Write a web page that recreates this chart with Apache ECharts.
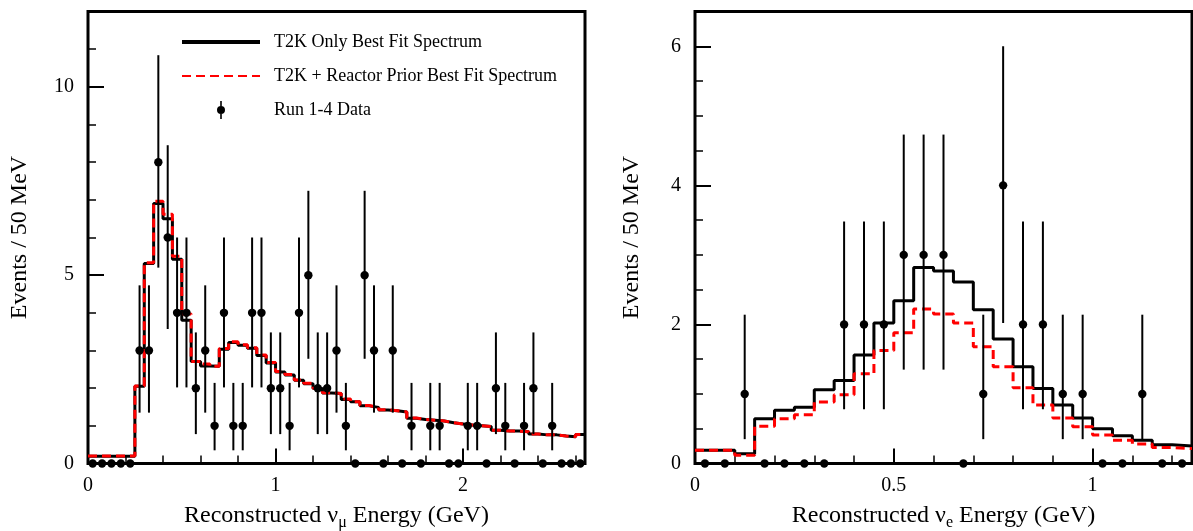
<!DOCTYPE html>
<html>
<head>
<meta charset="utf-8">
<script src="https://cdn.jsdelivr.net/npm/echarts@6/dist/echarts.min.js"></script>
<style>
  html, body { margin: 0; padding: 0; background: #fff; }
  #chart { width: 1193px; height: 531px; }
</style>
</head>
<body>
<div id="chart"></div>
<script>
const FONT = "Liberation Serif";
const binWidth = 0.05; // 50 MeV bins

/* ---------------- numu sample (left) ---------------- */
const numuT2K = [
  0.19, 0.19, 0.19, 0.19, 0.19, 2.05, 5.31, 6.90, 6.50, 5.42,
  3.80, 2.71, 2.59, 2.58, 3.03, 3.21, 3.14, 3.06, 2.87, 2.67,
  2.43, 2.35, 2.21, 2.12, 1.99, 1.87, 1.86, 1.70, 1.64, 1.53,
  1.49, 1.42, 1.40, 1.37, 1.20, 1.17, 1.15, 1.13, 1.08, 1.05,
  1.02, 1.00, 0.98, 0.88, 0.86, 0.86, 0.84, 0.78, 0.76, 0.76,
  0.73, 0.71, 0.77
];
const numuReactor = [
  0.20, 0.20, 0.20, 0.20, 0.20, 2.06, 5.33, 6.96, 6.62, 5.50,
  3.97, 2.71, 2.64, 2.58, 3.05, 3.23, 3.15, 3.07, 2.88, 2.68,
  2.44, 2.36, 2.22, 2.13, 2.00, 1.88, 1.86, 1.71, 1.64, 1.54,
  1.49, 1.43, 1.40, 1.37, 1.21, 1.17, 1.15, 1.13, 1.08, 1.05,
  1.02, 1.00, 0.98, 0.88, 0.86, 0.86, 0.84, 0.78, 0.76, 0.76,
  0.73, 0.71, 0.77
];
const numuData = [
  0, 0, 0, 0, 0, 3, 3, 8, 6, 4,
  4, 2, 3, 1, 4, 1, 1, 4, 4, 2,
  2, 1, 4, 5, 2, 2, 3, 1, 0, 5,
  3, 0, 3, 0, 1, 0, 1, 1, 0, 0,
  1, 1, 0, 2, 1, 0, 1, 2, 0, 1,
  0, 0, 0
];

/* ---------------- nue sample (right) ---------------- */
const nueT2K = [
  0.19, 0.19, 0.14, 0.645, 0.765, 0.81, 1.06, 1.195, 1.56, 2.02,
  2.34, 2.82, 2.77, 2.61, 2.21, 1.79, 1.39, 1.08, 0.84, 0.655,
  0.50, 0.40, 0.335, 0.27, 0.25
];
const nueReactor = [
  0.19, 0.19, 0.12, 0.535, 0.645, 0.70, 0.885, 0.99, 1.29, 1.625,
  1.88, 2.22, 2.15, 2.02, 1.68, 1.39, 1.09, 0.84, 0.655, 0.53,
  0.41, 0.335, 0.28, 0.23, 0.215
];
const nueData = [
  0, 0, 1, 0, 0, 0, 0, 2, 2, 2,
  3, 3, 3, 0, 1, 4, 2, 2, 1, 1,
  0, 0, 1, 0, 0
];

const errLow  = { 1: 0.35, 2: 0.78, 3: 1.35, 4: 2.02, 5: 2.78, 6: 3.57, 8: 5.20 };
const errHigh = { 1: 2.14, 2: 3.48, 3: 4.73, 4: 6.00, 5: 7.24, 6: 8.45, 8: 10.84 };

const seriesNames = [
  "T2K Only Best Fit Spectrum",
  "T2K + Reactor Prior Best Fit Spectrum",
  "Run 1-4 Data"
];

/* ---------------- Helpers ---------------- */
const stepData = vals => {
  const pts = vals.map((v, i) => [i * binWidth, v]);
  pts.push([vals.length * binWidth, vals[vals.length - 1]]);
  return pts;
};

const pointData = counts =>
  counts.map((n, i) => [(i + 0.5) * binWidth, n, n ? errLow[n] : 0, n ? errHigh[n] : 0]);

const GRID_W = 497, GRID_H = 452;

function panelAxes(gridIndex, x, y, nameSub, yNameGap) {
  const xAxes = [
    {
      gridIndex, type: "value", min: 0, max: x.max, interval: x.major, position: "bottom",
      axisLine: { show: false, onZero: false },
      axisTick: { inside: true, length: 15, lineStyle: { color: "#000", width: 2 } },
      splitLine: { show: false },
      axisLabel: { margin: 12, fontSize: 20, fontFamily: FONT, color: "#000", showMaxLabel: false },
      name: "Reconstructed \u03bd{sub|" + nameSub + "} Energy (GeV)",
      nameLocation: "middle", nameGap: 38,
      nameTextStyle: {
        fontFamily: FONT, fontSize: 24, lineHeight: 26, color: "#000",
        rich: { sub: { fontFamily: FONT, fontSize: 16, lineHeight: 16, color: "#000", padding: [14, 0, 0, 0] } }
      }
    },
    {
      gridIndex, type: "value", min: 0, max: x.max, interval: x.minor, position: "top",
      offset: -GRID_H,
      axisLine: { show: false, onZero: false },
      axisTick: { inside: false, length: 8, lineStyle: { color: "#000", width: 1.5 } },
      axisLabel: { show: false }, splitLine: { show: false }
    }
  ];
  const yAxes = [
    {
      gridIndex, type: "value", min: 0, max: y.max, interval: y.major, position: "left",
      axisLine: { show: false, onZero: false },
      axisTick: { inside: true, length: 16, lineStyle: { color: "#000", width: 2 } },
      splitLine: { show: false },
      axisLabel: { margin: 14, fontSize: 20, fontFamily: FONT, color: "#000", showMaxLabel: false },
      name: "Events / 50 MeV", nameLocation: "middle", nameRotate: 90, nameGap: yNameGap,
      nameTextStyle: { fontFamily: FONT, fontSize: 24, color: "#000" }
    },
    {
      gridIndex, type: "value", min: 0, max: y.max, interval: y.minor, position: "right",
      offset: -GRID_W,
      axisLine: { show: false, onZero: false },
      axisTick: { inside: false, length: 8, lineStyle: { color: "#000", width: 1.5 } },
      axisLabel: { show: false }, splitLine: { show: false }
    }
  ];
  return { xAxes, yAxes };
}

function panelSeries(axisIdx, t2k, reactor, data) {
  return [
    {
      name: seriesNames[0], type: "line", step: "end", symbol: "none",
      xAxisIndex: axisIdx, yAxisIndex: axisIdx, z: 3,
      data: stepData(t2k),
      lineStyle: { color: "#000", width: 3 }, itemStyle: { color: "#000" }
    },
    {
      name: seriesNames[1], type: "line", step: "end", symbol: "none",
      xAxisIndex: axisIdx, yAxisIndex: axisIdx, z: 4,
      data: stepData(reactor),
      lineStyle: { color: "#ff0000", width: 3, type: [9, 5] }, itemStyle: { color: "#ff0000" }
    },
    {
      name: seriesNames[2], type: "custom",
      xAxisIndex: axisIdx, yAxisIndex: axisIdx, z: 5, clip: false,
      data: pointData(data),
      encode: { x: 0, y: 1 },
      itemStyle: { color: "#000" },
      renderItem: (params, api) => {
        const xv = api.value(0), n = api.value(1);
        const c = api.coord([xv, n]);
        const children = [];
        if (n > 0) {
          const lo = api.coord([xv, api.value(2)]);
          const hi = api.coord([xv, api.value(3)]);
          children.push({
            type: "line",
            shape: { x1: c[0], y1: lo[1], x2: c[0], y2: hi[1] },
            style: { stroke: "#000", lineWidth: 2 }
          });
        }
        children.push({ type: "circle", shape: { cx: c[0], cy: c[1], r: 4.2 }, style: { fill: "#000" } });
        return { type: "group", children };
      }
    }
  ];
}

/* ---------------- Chart ---------------- */
const chartInstance = echarts.init(document.getElementById("chart"), null, { renderer: "canvas" });

const left = panelAxes(0, { max: 2.65, major: 1, minor: 0.2 }, { max: 12, major: 5, minor: 1 }, "\u03bc", 56);
const right = panelAxes(1, { max: 1.25, major: 0.5, minor: 0.1 }, { max: 6.5, major: 2, minor: 0.5 }, "e", 51);

// dot with a vertical bar, padded to the 78x18 legend box
const legendIcon = "path://M0,0Z M78,18Z M38.2,0H39.8V18H38.2Z M35,9A4,4 0 1,1 43,9A4,4 0 1,1 35,9Z";

const option = {
  animation: false,
  backgroundColor: "#fff",
  textStyle: { fontFamily: FONT },
  grid: [
    { left: 88, top: 11.5, width: GRID_W, height: GRID_H, show: true, borderColor: "#000", borderWidth: 3,
      containLabel: false, outerBoundsMode: "none" },
    { left: 695, top: 11.5, width: GRID_W, height: GRID_H, show: true, borderColor: "#000", borderWidth: 3,
      containLabel: false, outerBoundsMode: "none" }
  ],
  xAxis: [...left.xAxes, ...right.xAxes],
  yAxis: [...left.yAxes, ...right.yAxes],
  legend: {
    left: 180, top: 33, orient: "vertical",
    itemWidth: 78, itemHeight: 18, itemGap: 16, padding: 0,
    selectedMode: false,
    textStyle: { fontFamily: FONT, fontSize: 18, color: "#000", padding: [0, 0, 0, 9] },
    data: [
      { name: seriesNames[0], lineStyle: { width: 4 }, itemStyle: { opacity: 0 } },
      { name: seriesNames[1], itemStyle: { opacity: 0 } },
      { name: seriesNames[2], icon: legendIcon }
    ]
  },
  series: [
    ...panelSeries(0, numuT2K, numuReactor, numuData),
    ...panelSeries(2, nueT2K, nueReactor, nueData)
  ]
};

chartInstance.setOption(option);
</script>
</body>
</html>
